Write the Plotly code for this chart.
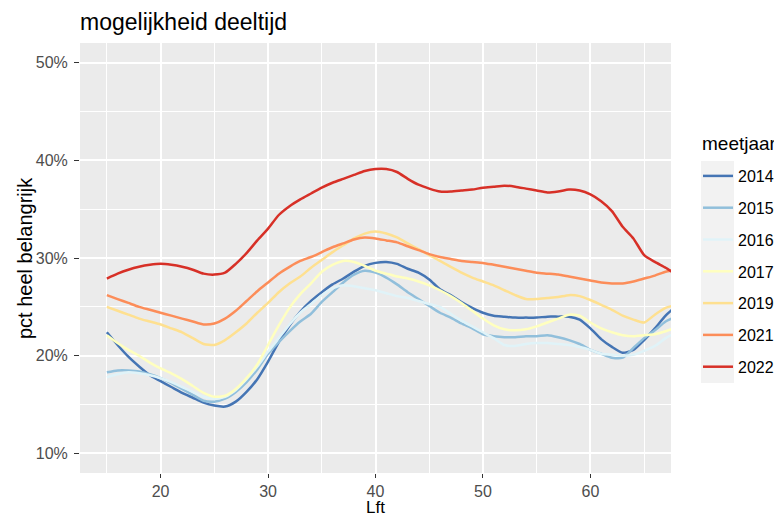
import plotly.graph_objects as go

ages = list(range(15, 69))

y2014 = [22.4, 21.1, 19.9, 18.9, 18.0, 17.4, 16.8, 16.2, 15.7, 15.2, 14.9, 14.8, 15.3, 16.3, 17.6, 19.4,
         21.4, 23.1, 24.5, 25.6, 26.5, 27.3, 27.9, 28.6, 29.2, 29.5, 29.6, 29.4, 28.9, 28.5, 27.8, 26.8,
         26.2, 25.5, 24.9, 24.4, 24.1, 24.0, 23.9, 23.9, 23.9, 24.0, 24.0, 24.0, 23.7, 22.8, 21.7, 20.9,
         20.3, 20.6, 21.6, 22.8, 24.1, 25.1]
y2015 = [18.3, 18.5, 18.5, 18.4, 18.1, 17.7, 17.2, 16.6, 16.0, 15.4, 15.3, 15.6, 16.3, 17.3, 18.6, 20.2,
         21.4, 22.5, 23.5, 24.3, 25.5, 26.5, 27.5, 28.3, 28.7, 28.5, 28.0, 27.3, 26.5, 25.8, 25.1, 24.4,
         23.9, 23.3, 22.8, 22.2, 22.0, 21.9, 21.9, 22.0, 22.0, 22.1, 21.9, 21.6, 21.2, 20.6, 20.2, 19.8,
         19.8, 20.8, 21.8, 22.6, 23.5, 24.0]
y2016 = [17.8, 18.1, 18.3, 18.2, 18.0, 17.7, 17.3, 16.8, 16.3, 15.8, 15.6, 15.8, 16.5, 17.6, 18.9, 20.4,
         21.8, 23.2, 24.4, 25.3, 26.2, 26.9, 27.2, 27.1, 26.9, 26.7, 26.4, 26.1, 25.9, 25.6, 25.3, 25.0,
         24.3, 23.6, 23.0, 22.4, 21.8, 21.1, 21.0, 21.2, 21.3, 21.3, 21.2, 21.1, 20.9, 20.6, 20.2, 20.1,
         20.0, 20.1, 20.5, 21.0, 21.8, 22.4]
y2017 = [22.1, 21.3, 20.6, 20.0, 19.3, 18.7, 18.2, 17.6, 16.9, 16.2, 15.8, 15.9, 16.6, 17.7, 19.1, 21.1,
         23.1, 24.9, 26.3, 27.4, 28.6, 29.3, 29.7, 29.6, 29.2, 28.7, 28.4, 28.1, 27.9, 27.6, 27.2, 26.7,
         26.1, 25.4, 24.6, 23.8, 23.1, 22.7, 22.6, 22.7, 23.0, 23.4, 23.8, 24.2, 24.1, 23.4, 22.8, 22.4,
         22.1, 22.0, 22.1, 22.2, 22.5, 22.9]
y2019 = [25.0, 24.6, 24.2, 23.8, 23.5, 23.2, 22.8, 22.4, 21.8, 21.2, 21.1, 21.6, 22.4, 23.3, 24.4, 25.4,
         26.5, 27.4, 28.1, 29.0, 29.8, 30.6, 31.3, 32.0, 32.5, 32.7, 32.5, 32.1, 31.5, 30.9, 30.3, 29.7,
         29.1, 28.5, 28.0, 27.6, 27.2, 26.7, 26.2, 25.8, 25.8, 25.9, 26.0, 26.2, 26.1, 25.7, 25.2, 24.7,
         24.1, 23.7, 23.4, 24.2, 24.9, 25.2]
y2021 = [26.2, 25.8, 25.4, 25.0, 24.7, 24.4, 24.1, 23.8, 23.5, 23.2, 23.3, 23.8, 24.6, 25.6, 26.6, 27.5,
         28.4, 29.1, 29.7, 30.1, 30.6, 31.1, 31.5, 31.9, 32.1, 32.0, 31.8, 31.6, 31.2, 30.8, 30.4, 30.1,
         29.9, 29.7, 29.6, 29.5, 29.3, 29.1, 28.9, 28.7, 28.5, 28.4, 28.3, 28.1, 27.9, 27.7, 27.5, 27.4,
         27.4, 27.6, 27.9, 28.2, 28.6, 28.8]
y2022 = [27.9, 28.4, 28.8, 29.1, 29.3, 29.4, 29.3, 29.1, 28.8, 28.4, 28.3, 28.5, 29.4, 30.5, 31.8, 33.0,
         34.4, 35.3, 36.0, 36.6, 37.2, 37.7, 38.1, 38.5, 38.9, 39.1, 39.1, 38.8, 38.1, 37.5, 37.1, 36.8,
         36.8, 36.9, 37.0, 37.2, 37.3, 37.4, 37.3, 37.1, 36.9, 36.7, 36.8, 37.0, 36.9, 36.5, 35.8, 34.8,
         33.2, 32.0, 30.3, 29.6, 29.0, 28.3]

years = ["2014", "2015", "2016", "2017", "2019", "2021", "2022"]
series = [y2014, y2015, y2016, y2017, y2019, y2021, y2022]
colors = ["#4575B4", "#91BFDB", "#E0F3F8", "#FFFFBF", "#FEE090", "#FC8D59", "#D73027"]

y_ticks = [0.1, 0.2, 0.3, 0.4, 0.5]
x_ticks = [20, 30, 40, 50, 60]

FONT = "Liberation Sans, Arial, sans-serif"
# the page body has an 8px margin; design in page pixels and shift by it
OFF = 8
W, H = 782 - OFF, 524 - 2 * OFF
L, R, T = 80 - OFF, 782 - 671, 43 - OFF
B = (H + OFF) - 473
PW, PH = W - L - R, H - T - B


def px_x(p):
    return (p - OFF - L) / PW


def px_y(p):
    return (H - B - (p - OFF)) / PH


fig = go.Figure()
for yr, vals, col in zip(years, series, colors):
    fig.add_trace(go.Scatter(
        x=ages, y=[v / 100 for v in vals], mode="lines", name=yr,
        legendgroup=yr,
        line=dict(color=col, width=2.5, shape="spline", smoothing=0.6),
        hoverinfo="skip",
    ))

# legend key background (ggplot grey95 key boxes)
fig.add_shape(type="rect", xref="paper", yref="paper",
              x0=px_x(701), x1=px_x(734), y0=px_y(383), y1=px_y(161),
              fillcolor="#F2F2F2", line=dict(width=0), layer="above")

# legend title and axis titles
fig.add_annotation(text="meetjaar", xref="paper", yref="paper",
                   x=px_x(700), y=px_y(143), xanchor="left", yanchor="middle",
                   showarrow=False, font=dict(size=19, color="black", family=FONT))
fig.add_annotation(text="Lft", xref="paper", yref="paper",
                   x=0.5, y=px_y(507), xanchor="center", yanchor="middle",
                   showarrow=False, font=dict(size=17, color="black", family=FONT))
fig.add_annotation(text="pct heel belangrijk", xref="paper", yref="paper",
                   x=px_x(25), y=0.5, xanchor="center", yanchor="middle", textangle=-90,
                   showarrow=False, font=dict(size=20, color="black", family=FONT))

fig.update_layout(
    width=W, height=H,
    margin=dict(l=L, r=R, t=T, b=B, autoexpand=False),
    paper_bgcolor="white", plot_bgcolor="#EBEBEB",
    font=dict(family=FONT, color="black"),
    title=dict(text="mogelijkheid deeltijd", x=(80 - OFF) / W, xanchor="left", xref="container",
               y=1 - (22 - OFF) / H, yanchor="middle", yref="container", pad=dict(l=0, r=0, t=0, b=0),
               font=dict(size=23, color="black")),
    showlegend=True,
    legend=dict(
        font=dict(size=16, color="black"),
        x=px_x(698), xanchor="left",
        y=px_y(159), yanchor="top",
        bgcolor="rgba(0,0,0,0)", borderwidth=0,
        tracegroupgap=8, itemwidth=30,
    ),
    xaxis=dict(
        range=[12.5, 67.5], tickvals=x_ticks, ticktext=[str(v) for v in x_ticks],
        automargin=False,
        showgrid=True, gridcolor="white", gridwidth=2.2,
        minor=dict(tickvals=[15, 25, 35, 45, 55, 65], showgrid=True, gridcolor="white", gridwidth=1.1, ticks=""),
        ticks="outside", ticklen=4, tickwidth=1.4, tickcolor="#333333",
        tickfont=dict(size=16, color="#4D4D4D"),
        zeroline=False, showline=False,
    ),
    yaxis=dict(
        range=[0.08, 0.52], tickvals=y_ticks, tickformat=".0%",
        automargin=False,
        showgrid=True, gridcolor="white", gridwidth=2.2,
        minor=dict(tickvals=[0.15, 0.25, 0.35, 0.45], showgrid=True, gridcolor="white", gridwidth=1.1, ticks=""),
        ticks="outside", ticklen=5, tickwidth=1.4, tickcolor="#333333",
        tickfont=dict(size=16, color="#4D4D4D"),
        ticklabelstandoff=3,
        zeroline=False, showline=False,
    ),
)

fig.write_html("out.html")
